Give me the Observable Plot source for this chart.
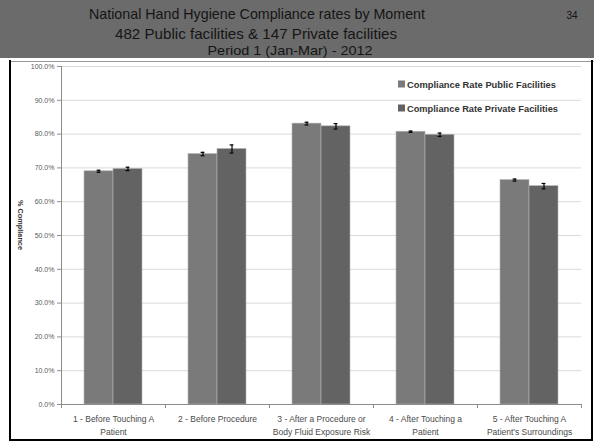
<!DOCTYPE html>
<html>
<head>
<meta charset="utf-8">
<script src="https://cdn.jsdelivr.net/npm/d3@7"></script>
<script src="https://cdn.jsdelivr.net/npm/@observablehq/plot@0.6"></script>
<style>
  html, body { margin: 0; padding: 0; background: #fff; }
  #wrap { position: relative; width: 594px; height: 443px; overflow: hidden; background: #fff; }
  #wrap > svg { position: absolute; left: 0; top: 0; }
</style>
</head>
<body>
<div id="wrap"></div>
<script>
// ---- data ----
const titleLines = [
  "National Hand Hygiene Compliance rates by Moment",
  "482 Public facilities & 147 Private facilities",
  "Period 1 (Jan-Mar) - 2012"
];
const slideNumber = "34";
const yAxisTitle = "% Compliance";
const categories = [
  "1 - Before Touching A Patient",
  "2 - Before Procedure",
  "3 - After a Procedure or Body Fluid Exposure Risk",
  "4 - After Touching a Patient",
  "5 - After Touching A Patient's Surroundings"
];
const categoryLabels = [
  "1 - Before Touching A\nPatient",
  "2 - Before Procedure",
  "3 - After a Procedure or\nBody Fluid Exposure Risk",
  "4 - After Touching a\nPatient",
  "5 - After Touching A\nPatient's Surroundings"
];
const series = ["Compliance Rate Public Facilities", "Compliance Rate Private Facilities"];
const publicRates  = [69.0, 74.1, 83.1, 80.7, 66.4];
const privateRates = [69.7, 75.6, 82.3, 79.8, 64.6];
const publicErr    = [0.3, 0.5, 0.4, 0.2, 0.3];
const privateErr   = [0.5, 1.2, 0.8, 0.5, 0.8];
const yTicks = [0, 10, 20, 30, 40, 50, 60, 70, 80, 90, 100];

const seriesColors = ["#7a7a7a", "#636363"];

const rows = categories.flatMap((c, i) => [
  {category: c, series: series[0], value: publicRates[i], err: publicErr[i]},
  {category: c, series: series[1], value: privateRates[i], err: privateErr[i]}
]);

const boundaryTicks = (index, scales, values, dimensions) => {
  const {width, height, marginLeft, marginRight, marginBottom} = dimensions;
  const y0 = height - marginBottom;
  const g = d3.create("svg:g").attr("stroke", "#8c8c8c");
  for (const x of [marginLeft, width - marginRight]) {
    g.append("line").attr("x1", x + 0.5).attr("x2", x + 0.5).attr("y1", y0).attr("y2", y0 + 4);
  }
  return g.node();
};

const chart = Plot.plot({
  width: 594,
  height: 443,
  marginTop: 66,
  marginBottom: 39,
  marginLeft: 59,
  marginRight: 11,
  style: {fontFamily: "'Liberation Sans', Arial, sans-serif", background: "transparent", overflow: "visible"},
  fx: {domain: categories, padding: 0, axis: null},
  x: {domain: series, paddingInner: 0, paddingOuter: 0.78, axis: null},
  y: {domain: [0, 100], axis: null},
  color: {domain: series, range: seriesColors},
  marks: [
    Plot.gridY(yTicks, {stroke: "#d9d9d9", strokeOpacity: 1}),
    Plot.barY(rows, {fx: "category", x: "series", y: "value", fill: "series", stroke: "#b4b4b4", strokeWidth: 0.6}),
    Plot.ruleX(rows, {fx: "category", x: "series", y1: d => d.value - d.err, y2: d => d.value + d.err, stroke: "#000", strokeWidth: 1.2}),
    Plot.tickY(rows, {fx: "category", x: "series", y: d => d.value - d.err, insetLeft: 12.6, insetRight: 12.6, stroke: "#000", strokeWidth: 1.2}),
    Plot.tickY(rows, {fx: "category", x: "series", y: d => d.value + d.err, insetLeft: 12.6, insetRight: 12.6, stroke: "#000", strokeWidth: 1.2}),
    Plot.ruleY([0], {stroke: "#8c8c8c"}),
    boundaryTicks,
    Plot.frame({anchor: "left", facet: "super", stroke: "#8c8c8c"}),
    Plot.axisY(yTicks, {tickFormat: d => d.toFixed(1) + "%", tickSize: 4, tickPadding: 3, fontSize: 7, fill: "#595959", stroke: "#8c8c8c", label: null}),
    Plot.text(categories, {fx: d => d, text: (d, i) => categoryLabels[i], frameAnchor: "bottom", dy: 9, lineAnchor: "top", lineHeight: 1.45, fontSize: 8.5, fill: "#4a4a4a"})
  ]
});

const wrap = document.getElementById("wrap");

// Background / slide decoration (behind chart)
const bg = d3.create("svg").attr("width", 594).attr("height", 443);
bg.append("rect").attr("x", 0).attr("y", 0).attr("width", 594).attr("height", 58).attr("fill", "#6b6b6b");
bg.append("line").attr("x1", 10).attr("x2", 594).attr("y1", 61.5).attr("y2", 61.5).attr("stroke", "#9a9a9a");
wrap.appendChild(bg.node());
wrap.appendChild(chart);

// Foreground: title, legend, borders
const fg = d3.create("svg").attr("width", 594).attr("height", 443)
  .style("font-family", "'Liberation Sans', Arial, sans-serif");
const titleSpecs = [
  {x: 257, y: 19, size: 15, len: 336},
  {x: 256, y: 39, size: 15, len: 282},
  {x: 290, y: 54.5, size: 13, len: 165}
];
titleLines.forEach((t, i) => {
  const s = titleSpecs[i];
  fg.append("text").attr("x", s.x).attr("y", s.y).attr("text-anchor", "middle")
    .attr("font-size", s.size).attr("fill", "#151515")
    .attr("textLength", s.len).attr("lengthAdjust", "spacingAndGlyphs").text(t);
});
fg.append("text").attr("x", 572).attr("y", 19).attr("text-anchor", "middle")
  .attr("font-size", 10).attr("fill", "#151515").text(slideNumber);

// legend
series.forEach((s, i) => {
  const y = 84 + i * 24;
  fg.append("rect").attr("x", 398).attr("y", y - 3.5).attr("width", 7).attr("height", 7).attr("fill", seriesColors[i]);
  fg.append("text").attr("x", 407).attr("y", y + 3.5).attr("font-size", 9.5).attr("font-weight", "bold")
    .attr("fill", "#333").attr("textLength", i === 0 ? 149 : 151).attr("lengthAdjust", "spacingAndGlyphs").text(s);
});

// y axis title (rotated)
fg.append("text").attr("transform", "translate(18,200) rotate(90)")
  .attr("font-size", 7).attr("font-weight", "bold").attr("fill", "#333")
  .attr("textLength", 50).attr("lengthAdjust", "spacingAndGlyphs").text(yAxisTitle);

// black slide frame
fg.append("line").attr("x1", 10).attr("x2", 10).attr("y1", 60).attr("y2", 441).attr("stroke", "#000").attr("stroke-width", 2);
fg.append("line").attr("x1", 9).attr("x2", 593).attr("y1", 440).attr("y2", 440).attr("stroke", "#000").attr("stroke-width", 2);
fg.append("line").attr("x1", 592).attr("x2", 592).attr("y1", 60).attr("y2", 441).attr("stroke", "#000").attr("stroke-width", 2);
wrap.appendChild(fg.node());
</script>
</body>
</html>
